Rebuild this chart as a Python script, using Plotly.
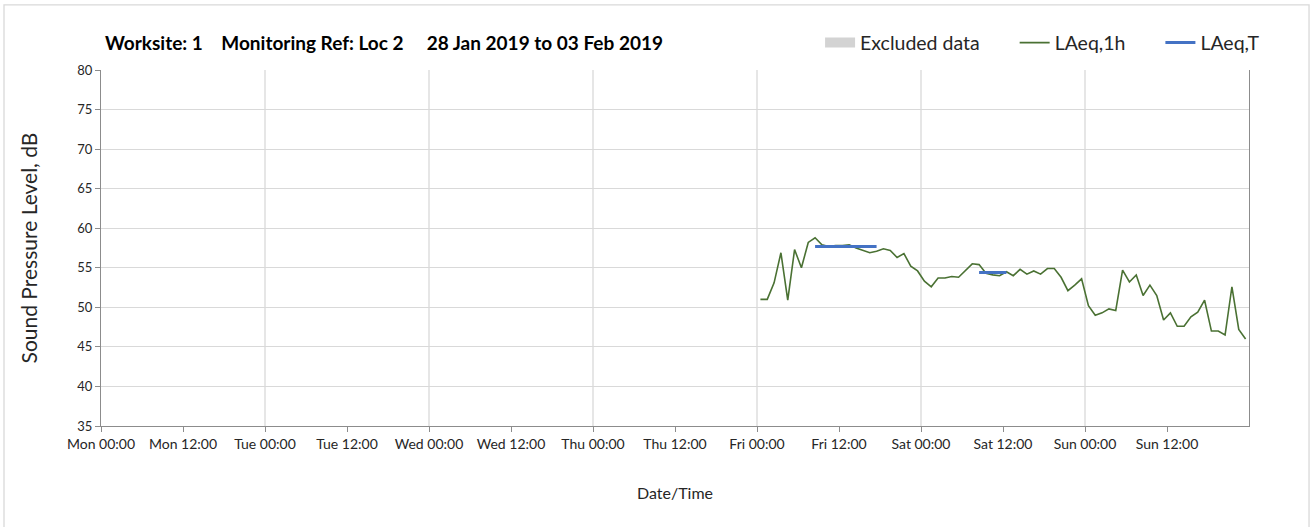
import pandas as pd
import plotly.graph_objects as go

# Hourly LAeq,1h readings, Fri 00:30 to Sun 23:30
START = '2019-02-01 00:30'
LAEQ_1H = [
    51.0, 51.0, 53.1, 56.9, 50.9, 57.3, 55.0, 58.2, 58.8, 57.9, 57.7, 57.8,
    57.8, 57.9, 57.5, 57.2, 56.9, 57.1, 57.4, 57.2, 56.3, 56.8, 55.2, 54.6,
    53.3, 52.6, 53.7, 53.7, 53.9, 53.8, 54.6, 55.5, 55.4, 54.3, 54.1, 54.0,
    54.5, 54.0, 54.8, 54.2, 54.6, 54.2, 54.9, 54.9, 53.8, 52.1, 52.8, 53.6,
    50.2, 49.0, 49.3, 49.8, 49.6, 54.7, 53.2, 54.1, 51.5, 52.8, 51.5, 48.4,
    49.3, 47.6, 47.6, 48.8, 49.4, 50.9, 47.0, 47.0, 46.5, 52.6, 47.2, 46.0,
]

# LAeq,T periods: start, end, level
LAEQ_T_START = ['2019-02-01 08:30', '2019-02-02 08:30']
LAEQ_T_END = ['2019-02-01 17:30', '2019-02-02 12:30']
LAEQ_T_VALUE = [57.7, 54.4]

# Axis ticks every 12 hours over the week
TICK_TIMES = pd.date_range('2019-01-28', '2019-02-03 12:00', freq='12h')
TICK_TEXT = [t.strftime('%a %H:%M') for t in TICK_TIMES]
DAY_LINES = pd.date_range('2019-01-29', '2019-02-03', freq='D')

GREEN = '#4a7133'
BLUE = '#4472c4'
GRID = '#d9d9d9'
AXIS = '#8c8c8c'
FONT = 'Lato, sans-serif'
TEXT = '#262626'
PAD = '\u00a0'  # used to widen the gaps between legend entries

times = pd.date_range(START, periods=len(LAEQ_1H), freq='h')

fig = go.Figure()

# legend-only entry for excluded periods (none in this week)
fig.add_trace(go.Scatter(
    x=[None], y=[None],
    mode='lines',
    name='Excluded data' + PAD * 6,
    line=dict(color='#d3d3d3', width=12),
    showlegend=True,
))

fig.add_trace(go.Scatter(
    x=times, y=LAEQ_1H,
    mode='lines',
    name='LAeq,1h' + PAD * 6,
    line=dict(color=GREEN, width=1.6),
))

for i, (s, e, v) in enumerate(zip(LAEQ_T_START, LAEQ_T_END, LAEQ_T_VALUE)):
    fig.add_trace(go.Scatter(
        x=[s, e], y=[v, v],
        mode='lines',
        name='LAeq,T',
        legendgroup='laeqt',
        showlegend=(i == 0),
        line=dict(color=BLUE, width=3),
    ))

# vertical gridlines at midnight only
for d in DAY_LINES:
    fig.add_shape(type='line', xref='x', yref='paper', x0=d, x1=d, y0=0, y1=1,
                  line=dict(color=GRID, width=1.3), layer='below')

# outer chart border
fig.add_shape(type='rect', xref='paper', yref='paper',
              x0=-0.0845, x1=1.0523, y0=-0.29, y1=1.183,
              line=dict(color=GRID, width=1.3), fillcolor='rgba(0,0,0,0)')

fig.add_annotation(
    xref='paper', yref='paper', x=0.002, y=1.076,
    xanchor='left', yanchor='middle', showarrow=False,
    text='<b>Worksite: 1    Monitoring Ref: Loc 2     28 Jan 2019 to 03 Feb 2019</b>',
    font=dict(family=FONT, size=19, color='#000000'),
)

fig.update_layout(
    width=1314, height=527,
    margin=dict(l=101, r=65, t=70, b=101, autoexpand=False),
    paper_bgcolor='white',
    plot_bgcolor='white',
    font=dict(family=FONT, color=TEXT),
    showlegend=True,
    legend=dict(
        orientation='h',
        x=1.014, xanchor='right',
        y=1.076, yanchor='middle',
        font=dict(family=FONT, size=19.5, color=TEXT),
        itemwidth=30,
        bgcolor='rgba(0,0,0,0)',
    ),
    xaxis=dict(
        type='date',
        range=['2019-01-28', '2019-02-04'],
        tickvals=TICK_TIMES,
        ticktext=TICK_TEXT,
        tickangle=0,
        showgrid=False,
        zeroline=False,
        showline=True,
        linecolor=AXIS,
        linewidth=1.3,
        ticks='outside',
        ticklen=5,
        tickcolor=AXIS,
        tickfont=dict(family=FONT, size=14, color=TEXT),
        automargin=False,
        title=dict(text='Date/Time', font=dict(family=FONT, size=16, color=TEXT),
                   standoff=36),
    ),
    yaxis=dict(
        range=[35, 80],
        dtick=5,
        showgrid=True,
        gridcolor=GRID,
        gridwidth=1.3,
        zeroline=False,
        showline=True,
        linecolor=AXIS,
        linewidth=1.3,
        mirror=True,
        ticks='outside',
        ticklen=5,
        tickcolor=AXIS,
        tickfont=dict(family=FONT, size=13, color=TEXT),
        automargin=False,
        title=dict(text='Sound Pressure Level, dB',
                   font=dict(family=FONT, size=21, color=TEXT), standoff=33),
    ),
)

# drop the default 8px page margin so the chart sits at the window origin
fig.write_html('out.html', config={'displayModeBar': False},
               post_script="document.body.style.margin='0px';")
